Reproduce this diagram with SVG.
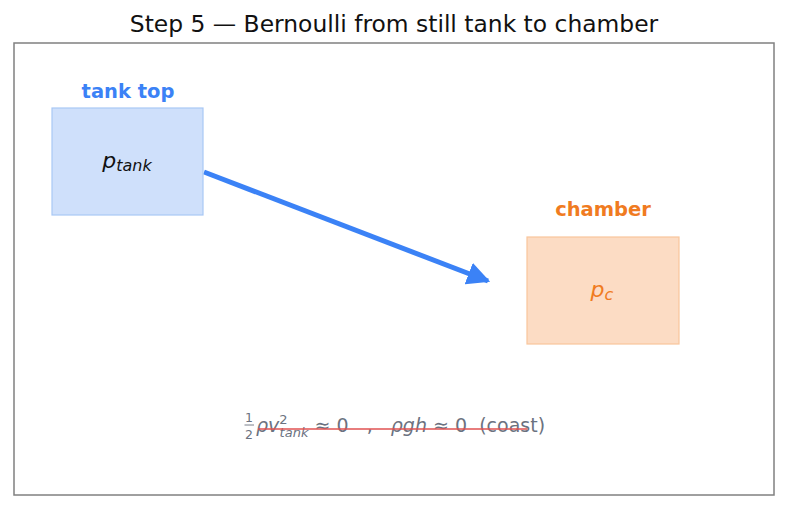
<svg xmlns="http://www.w3.org/2000/svg" width="787" height="510" viewBox="0 0 787 510">
<defs>
<style>
text{font-family:"DejaVu Sans",sans-serif;white-space:pre}
.lbl{font-weight:bold;font-size:19.5px;text-anchor:middle}
.m{font-style:italic}
</style>
<marker id="ah" viewBox="0 0 10 10" refX="9" refY="5" markerWidth="4.6" markerHeight="4.6" orient="auto" markerUnits="strokeWidth">
<path d="M0,0 L10,5 L0,10 z" fill="#3b82f6"/>
</marker>
</defs>
<rect width="787" height="510" fill="#fff"/>
<text x="394" y="32" font-size="23.4" text-anchor="middle" fill="#111">Step 5 — Bernoulli from still tank to chamber</text>
<rect x="14" y="43" width="760" height="452" fill="none" stroke="#808080" stroke-width="1.5"/>
<g id="connectors">
<line x1="204" y1="172" x2="488" y2="281" stroke="#3b82f6" stroke-width="5" marker-end="url(#ah)"/>
</g>
<g id="tank">
<text class="lbl" x="128" y="98" fill="#3b82f6">tank top</text>
<rect x="52" y="108" width="151" height="107" fill="#cfe0fb" stroke="#a9c8f5" stroke-width="1.2"/>
<text x="127" y="168" font-size="22" text-anchor="middle" fill="#111"><tspan class="m">p</tspan><tspan class="m" font-size="16" dy="3">tank</tspan></text>
</g>
<g id="chamber">
<text class="lbl" x="603" y="216" fill="#f07b21">chamber</text>
<rect x="527" y="237" width="152" height="107" fill="#fcdcc4" stroke="#f8c59c" stroke-width="1.2"/>
<text x="602" y="297" font-size="22" text-anchor="middle" fill="#f07b21"><tspan class="m">p</tspan><tspan class="m" font-size="16" dy="3">c</tspan></text>
</g>
<g id="formula" fill="#6b7280">
<text x="249" y="422" font-size="12.5" text-anchor="middle">1</text>
<line x1="244.5" y1="425" x2="254" y2="425" stroke="#6b7280" stroke-width="0.9"/>
<text x="249" y="439" font-size="12.5" text-anchor="middle">2</text>
<text x="256" y="432" font-size="19"><tspan class="m">ρv</tspan><tspan font-size="13" dy="-8">2</tspan><tspan class="m" font-size="13" dx="-8" dy="13">tank</tspan><tspan dy="-5"> ≈ 0   ,   </tspan><tspan class="m">ρgh</tspan><tspan> ≈ 0  (coast)</tspan></text>
<line x1="258" y1="429" x2="527" y2="429" stroke="#e05252" stroke-width="1.5"/>
</g>
</svg>
